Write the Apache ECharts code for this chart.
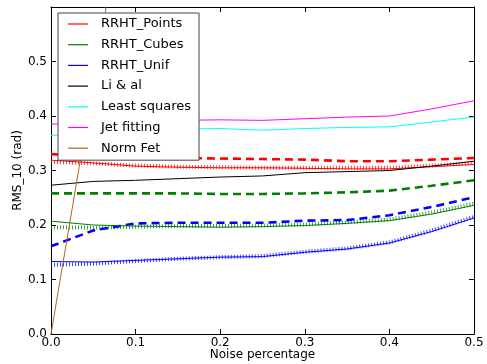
<!DOCTYPE html>
<html><head><meta charset="utf-8">
<script src="https://cdn.jsdelivr.net/npm/echarts@6/dist/echarts.min.js"></script>
<style>html,body{margin:0;padding:0;background:#fff}#c{width:487px;height:364px}</style>
</head><body><div id="c"></div>
<script>
const noise = [0, 0.05, 0.1, 0.15, 0.2, 0.25, 0.3, 0.35, 0.4, 0.45, 0.5];
const xTicks = ['0.0','0.1','0.2','0.3','0.4','0.5'];
const yTicks = ['0.0','0.1','0.2','0.3','0.4','0.5'];

const pointsSolid  = [0.319,0.314,0.308,0.306,0.305,0.305,0.304,0.303,0.303,0.307,0.311];
const pointsDashed = [0.330,0.327,0.325,0.323,0.322,0.321,0.320,0.317,0.317,0.320,0.323];
const pointsDotted = [0.316,0.313,0.309,0.307,0.306,0.305,0.305,0.305,0.305,0.309,0.314];
const cubesSolid   = [0.207,0.200,0.198,0.197,0.196,0.197,0.199,0.203,0.208,0.220,0.236];
const cubesDashed  = [0.258,0.258,0.258,0.258,0.257,0.257,0.258,0.260,0.263,0.272,0.282];
const cubesDotted  = [0.196,0.195,0.197,0.198,0.198,0.199,0.201,0.205,0.210,0.223,0.239];
const unifSolid    = [0.133,0.132,0.135,0.138,0.141,0.142,0.150,0.156,0.167,0.188,0.213];
const unifDashed   = [0.161,0.190,0.203,0.204,0.204,0.204,0.208,0.209,0.218,0.233,0.251];
const unifDotted   = [0.127,0.129,0.134,0.138,0.141,0.143,0.151,0.157,0.168,0.190,0.215];
const liAl         = [0.273,0.280,0.282,0.285,0.288,0.290,0.296,0.298,0.300,0.308,0.317];
const leastSquares = [0.364,0.370,0.373,0.376,0.377,0.374,0.377,0.379,0.380,0.389,0.398];
const jetFitting   = [0.385,0.387,0.390,0.392,0.393,0.392,0.395,0.398,0.400,0.413,0.428];
const normFet      = [0, 0.46, 0.92];

const pairs = arr => arr.map((v,i)=>[noise[i], v]);
const FONT = 'DejaVu Sans';

function line(name, color, data, style, z){
  let ls = {color: color, width: 1, type: 'solid'};
  if (style === 'dashed') ls = {color: color, width: 2.6, type: [8,5]};
  if (style === 'dotted') ls = {color: color, width: 4, type: [1,2], opacity: 0.75};
  return {name, type:'line', data: pairs(data), showSymbol:false, symbol:'none',
          lineStyle: ls, itemStyle:{color}, z: z||2, silent:true, animation:false, clip:true};
}

const series = [
  line('RRHT_Points dotted','#ff0000',pointsDotted,'dotted'),
  line('RRHT_Cubes dotted','#008000',cubesDotted,'dotted'),
  line('RRHT_Unif dotted','#0000ff',unifDotted,'dotted'),
  line('RRHT_Points','#ff0000',pointsSolid,'solid',3),
  line('RRHT_Cubes','#008000',cubesSolid,'solid',3),
  line('RRHT_Unif','#0000ff',unifSolid,'solid',3),
  line('Li & al','#000000',liAl,'solid',3),
  line('Least squares','#00ffff',leastSquares,'solid',3),
  line('Jet fitting','#ff00ff',jetFitting,'solid',3),
  line('Norm Fet','#b5651d',normFet,'solid',3),
  line('RRHT_Points dashed','#ff0000',pointsDashed,'dashed'),
  line('RRHT_Cubes dashed','#008000',cubesDashed,'dashed'),
  line('RRHT_Unif dashed','#0000ff',unifDashed,'dashed'),
];

const chart = echarts.init(document.getElementById('c'), null, {renderer:'canvas'});
const axisLine = {show:true, onZero:false, lineStyle:{color:'#000', width:1}};
const tick = {show:true, inside:true, length:5, lineStyle:{color:'#000'}};
chart.setOption({
  animation:false,
  backgroundColor:'#fff',
  grid:{left:51, right:13, top:7, bottom:30, containLabel:false, outerBoundsMode:'none'},
  legend:{
    data:['RRHT_Points','RRHT_Cubes','RRHT_Unif','Li & al','Least squares','Jet fitting','Norm Fet'],
    orient:'vertical', left:58, top:13,
    padding:[4,8,5,10], itemGap:6.7, itemWidth:20, itemHeight:1.2,
    icon:'rect', itemStyle:{borderWidth:0},
    backgroundColor:'#fff', borderColor:'#444', borderWidth:1,
    textStyle:{fontFamily:FONT, fontSize:13, color:'#000', lineHeight:14, padding:[0,0,0,8]},
    selectedMode:false, z:10
  },
  xAxis:[
    {type:'value', min:0, max:0.5, interval:0.1, position:'bottom',
     name:'Noise percentage', nameLocation:'middle', nameGap:15, nameMoveOverlap:false,
     nameTextStyle:{fontFamily:FONT, fontSize:12, color:'#000'},
     axisLine, axisTick:tick, splitLine:{show:false},
     axisLabel:{fontFamily:FONT, fontSize:12, color:'#000', margin:3,
       formatter:v=>{const i=Math.round(v*10);return xTicks[i]!==undefined?xTicks[i]:'';}}},
    {type:'value', min:0, max:0.5, interval:0.1, position:'top',
     axisLine, axisTick:tick, axisLabel:{show:false}, splitLine:{show:false}}
  ],
  yAxis:[
    {type:'value', min:0, max:0.6, interval:0.1, position:'left',
     name:'RMS_10 (rad)', nameLocation:'middle', nameGap:27, nameMoveOverlap:false,
     nameTextStyle:{fontFamily:FONT, fontSize:12, color:'#000'},
     axisLine, axisTick:tick, splitLine:{show:false},
     axisLabel:{fontFamily:FONT, fontSize:12, color:'#000', margin:4,
       formatter:v=>{const i=Math.round(v*10);return yTicks[i]!==undefined?yTicks[i]:'';}}},
    {type:'value', min:0, max:0.6, interval:0.1, position:'right',
     axisLine, axisTick:tick, axisLabel:{show:false}, splitLine:{show:false}}
  ],
  series
});
</script></body></html>
